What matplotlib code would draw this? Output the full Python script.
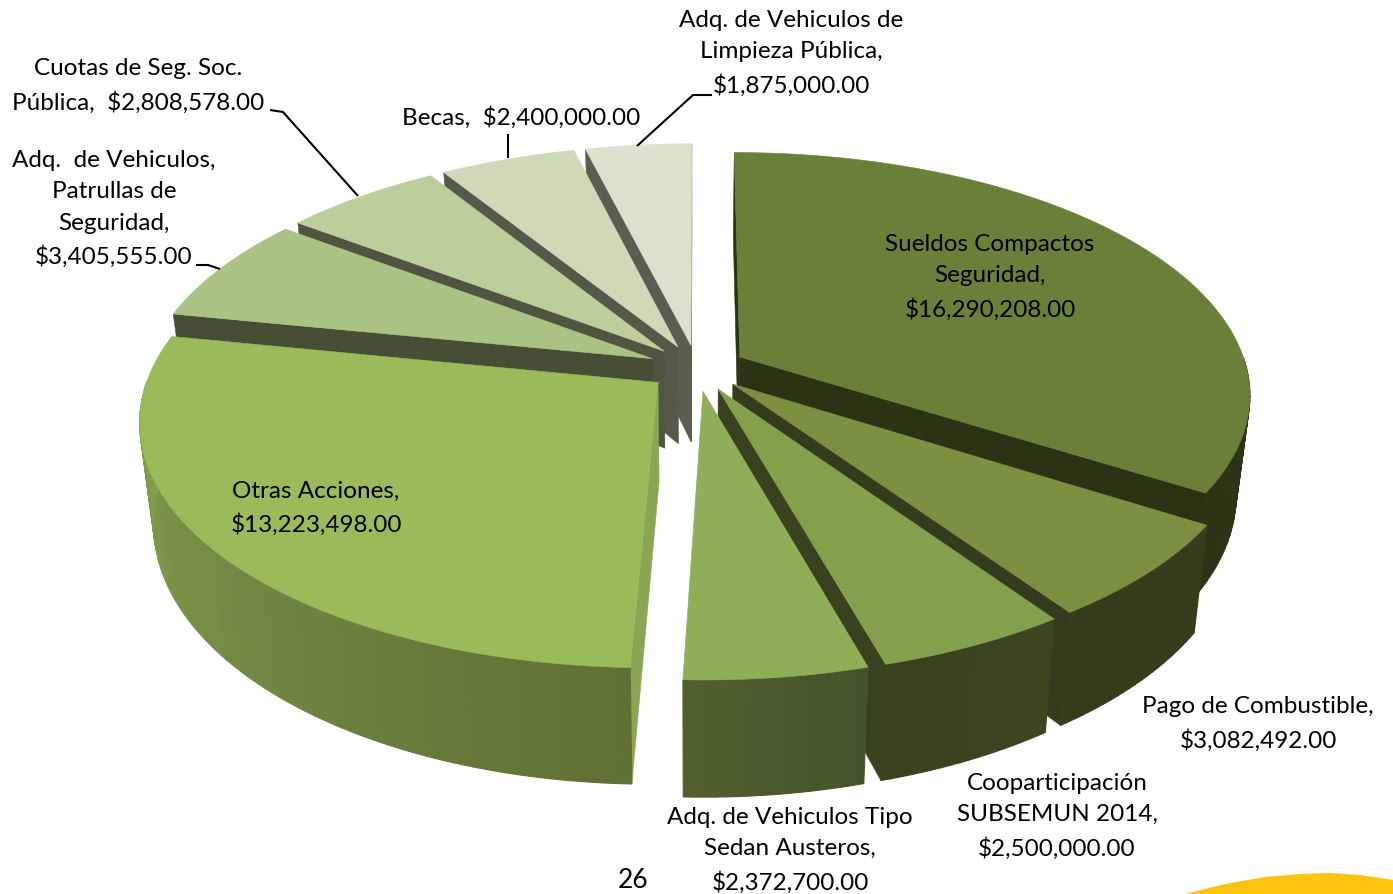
import numpy as np
import matplotlib
matplotlib.use("Agg")
import matplotlib.pyplot as plt
from matplotlib.colors import to_rgb

# Data, clockwise from 12 o'clock
names = [
    "Sueldos Compactos Seguridad",
    "Pago de Combustible",
    "Cooparticipación SUBSEMUN 2014",
    "Adq. de Vehiculos Tipo Sedan Austeros",
    "Otras Acciones",
    "Adq. de Vehiculos, Patrullas de Seguridad",
    "Cuotas de Seg. Soc. Pública",
    "Becas",
    "Adq. de Vehiculos de Limpieza Pública",
]
values = [16290208, 3082492, 2500000, 2372700, 13223498, 3405555, 2808578, 2400000, 1875000]

top_colors = ["#6a7f38", "#7b9141", "#84a04c", "#8fae57", "#9bba59", "#aac384", "#bccf9b", "#ced9b7", "#d8e2cc"]
wall_colors = ["#2b3315", "#333c1c", "#38421f", "#3f4b22", "#8aa554", "#474e36", "#4f5540", "#54594a", "#5a5e50"]
rim_start = ["#2c3416", "#343d1c", "#3b4520", "#45532a", "#5f7035", "#474e36", "#4f5540", "#54594a", "#5a5e50"]
rim_end = ["#2c3416", "#343d1c", "#38421f", "#50602d", "#8aa652", "#474e36", "#4f5540", "#54594a", "#5a5e50"]

# (text, x, y of the middle) for each label
labels = [
    ("Sueldos Compactos\nSeguridad,\n$16,290,208.00", 990, 277),
    ("Pago de Combustible,\n$3,082,492.00", 1258, 724),
    ("Cooparticipación\nSUBSEMUN 2014,\n$2,500,000.00", 1057, 816),
    ("Adq. de Vehiculos Tipo\nSedan Austeros,\n$2,372,700.00", 790, 850),
    ("Otras Acciones,\n$13,223,498.00", 316, 508),
    ("Adq.  de Vehiculos,\nPatrullas de\nSeguridad,\n$3,405,555.00", 114, 209),
    ("Cuotas de Seg. Soc.\nPública,  $2,808,578.00", 138, 86),
    ("Becas,  $2,400,000.00", 521, 118),
    ("Adq. de Vehiculos de\nLimpieza Pública,\n$1,875,000.00", 791, 53),
]

leaders = [
    ([637, 693, 712], [146, 95, 95]),
    ([508, 508], [158, 134]),
    ([358, 283, 270], [196, 112, 110]),
    ([220, 208, 196], [269, 265, 265]),
]

# Pie projection settings
cx, cy = 697, 368
rx, ry = 507, 238
depth = 98
persp = 6.7
explode = 0.097
shrink = 0.025


def project(px, py, z):
    s = persp / (persp - py)
    x = cx + rx * px * s * (1 - shrink * z)
    y = cy + ry * py * s + depth * s * z
    return x, y


def mix(a, b, t):
    a, b = np.array(to_rgb(a)), np.array(to_rgb(b))
    return tuple(a + (b - a) * t)


def draw_poly(ax, xs, ys, color, lw=0.4):
    ax.fill(xs, ys, facecolor=color, edgecolor=color, linewidth=lw)


def draw_slice(ax, a1, a2, top, wall, c1, c2):
    mid = (a1 + a2) / 2
    ox = explode * np.sin(mid)
    oy = -explode * np.cos(mid)

    th = np.linspace(a1, a2, max(int(np.degrees(a2 - a1)), 2) + 1)
    px = np.sin(th) + ox
    py = -np.cos(th) + oy

    # radial walls, only the one turned to the viewer
    for ang in [a1, a2]:
        facing = np.sin(ang) >= -0.01 if ang == a2 else np.sin(ang) <= 0.01
        if not facing:
            continue
        ex, ey = np.sin(ang) + ox, -np.cos(ang) + oy
        x0, y0 = project(ox, oy, 0)
        x1, y1 = project(ex, ey, 0)
        x2, y2 = project(ex, ey, 1)
        x3, y3 = project(ox, oy, 1)
        draw_poly(ax, [x0, x1, x2, x3], [y0, y1, y2, y3], wall)

    # outer rim, short strips so the shading can change along it
    for i in range(len(th) - 1):
        if -np.cos((th[i] + th[i + 1]) / 2) < 0:
            continue
        xa, ya = project(px[i], py[i], 0)
        xb, yb = project(px[i + 1], py[i + 1], 0)
        xc, yc = project(px[i + 1], py[i + 1], 1)
        xd, yd = project(px[i], py[i], 1)
        color = mix(c1, c2, i / max(len(th) - 2, 1))
        draw_poly(ax, [xa, xb, xc, xd], [ya, yb, yc, yd], color, lw=0.8)

    # flat top
    tx, ty = project(np.r_[ox, px], np.r_[oy, py], 0)
    draw_poly(ax, tx, ty, top)


fig = plt.figure(figsize=(13.93, 8.94), dpi=100)
ax = fig.add_axes([0, 0, 1, 1])
ax.set_xlim(0, 1393)
ax.set_ylim(894, 0)
ax.axis("off")

fractions = np.array(values) / np.sum(values)
edges = np.r_[0, np.cumsum(fractions)] * 2 * np.pi

# back slices first so the front ones paint over them
order = sorted(range(len(values)), key=lambda i: -np.cos((edges[i] + edges[i + 1]) / 2))
for i in order:
    draw_slice(ax, edges[i], edges[i + 1], top_colors[i], wall_colors[i], rim_start[i], rim_end[i])

for lx, ly in leaders:
    ax.plot(lx, ly, color="black", linewidth=1.5, solid_capstyle="butt")

for text, x, y in labels:
    ax.text(x, y, text, ha="center", va="center", fontsize=17.5, family="Lato",
            color="black", linespacing=1.62)

ax.text(633, 880, "26", ha="center", va="center", fontsize=19, family="Lato", color="black")

# yellow swoosh of the page template, bottom right corner
sw_x = [1185, 1225, 1265, 1300, 1330, 1360, 1393, 1393, 1185]
sw_y = [894, 884, 877, 874, 873, 875, 880, 894, 894]
ax.fill(sw_x, sw_y, color="#fcc30f", linewidth=0)

fig.savefig("out.png", dpi=100)
